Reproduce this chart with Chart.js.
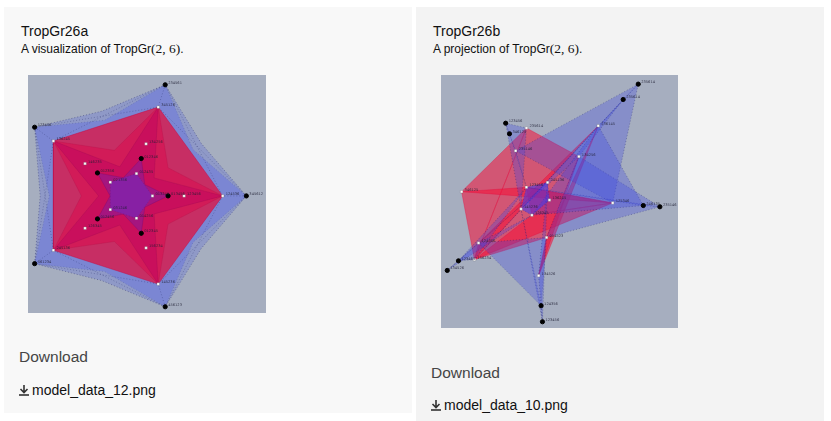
<!DOCTYPE html>
<html>
<head>
<meta charset="utf-8">
<script src="https://cdn.jsdelivr.net/npm/chart.js@4.4.1/dist/chart.umd.min.js"></script>
<style>
body{margin:0;background:#fff;font-family:"Liberation Sans",Arial,sans-serif;width:831px;height:421px;overflow:hidden;position:relative}
.card{position:absolute;top:7px;width:408px}
#cardA{left:4px;height:406px;background:#f8f8f8}
#cardB{left:416px;height:414px;background:#f3f3f3}
.title{position:absolute;left:17px;top:16px;font-size:14px;line-height:16px;color:#111;white-space:nowrap}
.sub{position:absolute;left:17px;top:35px;font-size:12px;line-height:14px;color:#111;white-space:nowrap}
.math{font-family:"Liberation Serif","DejaVu Serif",serif;font-size:13.5px}
.plot{position:absolute;left:24px;top:68px;background:#a6aebf}
.dl{position:absolute;left:15px;font-size:15.5px;line-height:18px;color:#454545}
.link{position:absolute;left:15px;font-size:14px;line-height:16px;color:#111;white-space:nowrap}
.link svg{display:inline-block;vertical-align:-1px;margin-right:3px}
</style>
</head>
<body>
<div class="card" id="cardA">
  <div class="title">TropGr26a</div>
  <div class="sub">A visualization of TropGr<span class="math">(2, 6)</span>.</div>
  <div class="plot" style="width:238px;height:238px"><canvas id="plotA"></canvas></div>
  <div class="dl" style="top:341px">Download</div>
  <div class="link" style="top:375px"><svg width="10" height="11" viewBox="0 0 10 11"><path d="M5 0v7M1.5 4l3.5 3.5L8.5 4" stroke="#333" stroke-width="1.6" fill="none"/><path d="M0 10h10" stroke="#333" stroke-width="1.6"/></svg>model_data_12.png</div>
</div>
<div class="card" id="cardB">
  <div class="title">TropGr26b</div>
  <div class="sub">A projection of TropGr<span class="math">(2, 6)</span>.</div>
  <div class="plot" style="left:25px;width:237px;height:253px"><canvas id="plotB"></canvas></div>
  <div class="dl" style="top:357px">Download</div>
  <div class="link" style="top:390px"><svg width="10" height="11" viewBox="0 0 10 11"><path d="M5 0v7M1.5 4l3.5 3.5L8.5 4" stroke="#333" stroke-width="1.6" fill="none"/><path d="M0 10h10" stroke="#333" stroke-width="1.6"/></svg>model_data_10.png</div>
</div>
<script>
// rays of TropGr(2,6), positions (image pixels, y down)
const leftBlack = [[138,5],[1.7,49.3],[222.7,121],[1.7,191.7],[138,236.7],[141,121],[113,82],[67.3,97],[67.3,145],[113,160]];
const leftBlackLabels = ['234561','123456','345612','561234','456123','013456','012346','012356','012456','012345'];
const leftWhite = [[130.7,28.3],[21.3,63.7],[198,121],[21.3,177.7],[130.7,213],[157.7,121],[118,66.7],[54.3,87.3],[54.3,154.7],[118,175.3],[124.7,121],[108,97.7],[80.7,106.7],[80.7,135.3],[108,144.3]];
const leftWhiteLabels = ['345126','136245','124536','245136','145236','123456','134256','146235','126345','156234','013245','012435','021356','031246','014256'];

// cones of the left picture
const leftOuterStar = [[222.7,121],[175.7,66.3],[138,5],[71.8,32.6],[1.7,49.3],[7.5,121],[1.7,191.7],[71.8,209.4],[138,236.7],[175.7,175.7]];
const leftMidStar = [[222.7,121],[167,72.5],[138,5],[74.8,42],[1.7,49.3],[17,121],[1.7,191.7],[74.8,200],[138,236.7],[167,169.5]];
const leftPentagon = [[198,121],[130.7,28.3],[21.3,63.7],[21.3,177.7],[130.7,213]];
const leftArmStar = [[198,121],[141,91.6],[130.7,28.3],[85,73.4],[21.3,63.7],[50.5,121],[21.3,177.7],[85,168.6],[130.7,213],[141,150.4]];
const leftInnerStar = [[198,121],[126.4,102.2],[130.7,28.3],[90.6,90.6],[21.3,63.7],[68.5,121],[21.3,177.7],[90.6,151.4],[130.7,213],[126.4,139.8]];
const leftCoreStar = [[141,121],[116.7,109.2],[113,82],[94.3,102],[67.3,97],[80.5,121],[67.3,145],[94.3,140],[113,160],[116.7,132.8]];
const leftCore = [[124.7,121],[108,97.7],[80.7,106.7],[80.7,135.3],[108,144.3]];
const leftEdges = [
  [[138,5],[130.7,28.3]],[[138,5],[21.3,63.7]],[[138,5],[198,121]],
  [[1.7,49.3],[21.3,63.7]],[[1.7,49.3],[130.7,28.3]],[[1.7,49.3],[21.3,177.7]],
  [[222.7,121],[198,121]],[[222.7,121],[130.7,28.3]],[[222.7,121],[130.7,213]],
  [[1.7,191.7],[21.3,177.7]],[[1.7,191.7],[21.3,63.7]],[[1.7,191.7],[130.7,213]],
  [[138,236.7],[130.7,213]],[[138,236.7],[21.3,177.7]],[[138,236.7],[198,121]]
];

const rightBlack = [[200.7,4.3],[185,20.3],[62.3,45],[66.3,56],[206,130.7],[223.3,132],[13,188.3],[1.3,198.3],[99.3,235],[100.7,251.7]];
const rightBlackLabels = ['235614','235614','123456','346125','246135','235146','123465','134526','124356','123456'];
const rightWhite = [[84,50],[159,47.7],[72.7,73.7],[138.7,79.7],[16.3,116.3],[84,111.7],[106,106.7],[108,125],[174,128],[78.3,134.3],[89.7,140.7],[105,164],[34,169.7],[29.7,187],[96.7,203.7]];
const rightWhiteLabels = ['235614','236145','235146','134256','346125','123456','245136','136245','125346','145236','126345','014523','124356','156234','134526'];

// cones of the right picture
const rightRed = [
  [[84,50],[16.3,116.3],[29.7,187]],
  [[84,50],[138.7,79.7],[105,164],[29.7,187]],
  [[174,128],[84,111.7],[89.7,140.7]],
  [[159,47.7],[105,164],[96.7,203.7]],
  [[159,47.7],[34,169.7],[29.7,187]],
  [[138.7,79.7],[96.7,203.7],[105,164]],
  [[16.3,116.3],[174,128],[84,111.7]],
  [[174,128],[29.7,187],[89.7,140.7]]
];
const rightBlue = [
  [[200.7,4.3],[185,20.3],[29.7,187]],
  [[200.7,4.3],[72.7,73.7],[174,128]],
  [[185,20.3],[78.3,134.3],[138.7,79.7]],
  [[62.3,45],[66.3,56],[84,111.7],[72.7,73.7]],
  [[62.3,45],[84,50],[78.3,134.3]],
  [[223.3,132],[206,130.7],[84,111.7]],
  [[223.3,132],[138.7,79.7],[105,164]],
  [[206,130.7],[159,47.7],[89.7,140.7]],
  [[1.3,198.3],[13,188.3],[106,106.7]],
  [[1.3,198.3],[34,169.7],[89.7,140.7]],
  [[13,188.3],[29.7,187],[84,111.7]],
  [[100.7,251.7],[99.3,235],[78.3,134.3]],
  [[99.3,235],[34,169.7],[105,164]],
  [[100.7,251.7],[96.7,203.7],[106,106.7]]
];
const rightCore = [[84,111.7],[106,106.7],[108,125],[89.7,140.7],[78.3,134.3]];

const labelPlugin = {
  id: 'rayLabels',
  afterDatasetsDraw(chart) {
    const ctx = chart.ctx;
    ctx.save();
    ctx.font = '3.6px "DejaVu Sans", sans-serif';
    ctx.fillStyle = 'rgba(30,30,50,0.85)';
    chart.data.datasets.forEach((ds, i) => {
      if (!ds.rayLabels) return;
      chart.getDatasetMeta(i).data.forEach((pt, j) => {
        ctx.fillText(ds.rayLabels[j], pt.x + 3, pt.y - 1);
      });
    });
    ctx.restore();
  }
};

const xy = pts => pts.map(([x, y]) => ({x, y}));

function cone(pts, fillColor, edgeColor, dotted, ord) {
  return {
    data: xy(pts.concat([pts[0]])),
    showLine: true,
    fill: 'shape',
    backgroundColor: fillColor,
    borderColor: edgeColor,
    borderWidth: 0.5,
    borderDash: dotted ? [1, 2] : [],
    pointRadius: 0,
    tension: 0,
    order: ord
  };
}

function edge(pts, ord) {
  return {
    data: xy(pts), showLine: true, fill: false,
    borderColor: 'rgba(20,20,80,0.55)', borderWidth: 0.5, borderDash: [1, 2],
    pointRadius: 0, order: ord
  };
}

function rays(black, blackLabels, white, whiteLabels) {
  return [{
    data: xy(black), showLine: false, pointRadius: 2.1,
    pointBackgroundColor: '#000', pointBorderColor: '#000', order: 0,
    rayLabels: blackLabels
  }, {
    data: xy(white), showLine: false, pointStyle: 'rect', pointRadius: 1.8,
    pointBackgroundColor: '#fff', pointBorderColor: '#666', pointBorderWidth: 0.3, order: 0,
    rayLabels: whiteLabels
  }];
}

function makeChart(id, w, h, datasets) {
  const el = document.getElementById(id);
  return new Chart(el, {
    type: 'scatter',
    data: {datasets: datasets},
    options: {
      responsive: true,
      maintainAspectRatio: false,
      animation: false,
      layout: {padding: 0},
      datasets: {scatter: {clip: false}},
      scales: {
        x: {type: 'linear', min: 0, max: w, display: false},
        y: {type: 'linear', min: 0, max: h, reverse: true, display: false}
      },
      plugins: {legend: {display: false}, tooltip: {enabled: false}}
    },
    plugins: [labelPlugin]
  });
}

const leftSets = [
  cone(leftOuterStar, 'rgba(90,105,220,0.3)', 'rgba(20,20,90,0.75)', true, 90),
  cone(leftMidStar, 'rgba(80,95,235,0.32)', 'rgba(20,20,90,0.35)', true, 89),
  cone(leftPentagon, 'rgba(212,32,82,0.86)', 'rgba(200,0,60,0.8)', false, 80),
  cone(leftArmStar, 'rgba(225,0,70,0.4)', 'rgba(160,0,60,0.35)', false, 79),
  cone(leftInnerStar, 'rgba(190,0,95,0.45)', 'rgba(120,0,80,0.35)', false, 78),
  cone(leftCoreStar, 'rgba(110,30,180,0.4)', 'rgba(60,0,120,0.35)', false, 77),
  cone(leftCore, 'rgba(90,50,220,0.4)', 'rgba(40,20,120,0.4)', true, 76)
].concat(leftEdges.map(e => edge(e, 70)), rays(leftBlack, leftBlackLabels, leftWhite, leftWhiteLabels));

// red cones underneath, blue cones drawn over them
const rightSets = rightRed.map((p, i) => cone(p, 'rgba(245,15,55,0.55)', 'rgba(230,10,60,0.7)', false, 90 - i))
  .concat(rightBlue.map((p, i) => cone(p, 'rgba(60,70,225,0.3)', 'rgba(20,20,90,0.6)', true, 70 - i)))
  .concat([cone(rightCore, 'rgba(45,60,255,0.5)', 'rgba(20,20,120,0.5)', true, 50)],
          rays(rightBlack, rightBlackLabels, rightWhite, rightWhiteLabels));

makeChart('plotA', 238, 238, leftSets);
makeChart('plotB', 237, 253, rightSets);
</script>
</body>
</html>
